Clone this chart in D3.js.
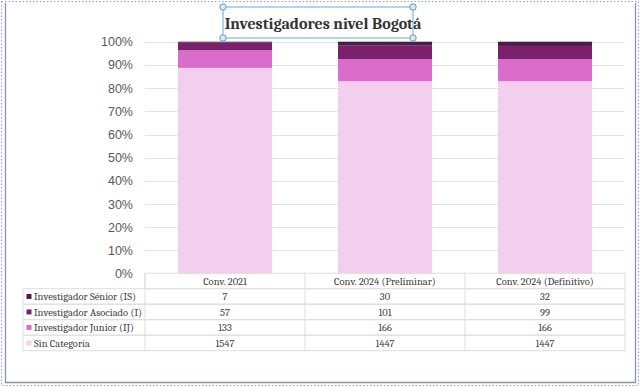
<!DOCTYPE html>
<html>
<head>
<meta charset="utf-8">
<script src="https://cdn.jsdelivr.net/npm/d3@7"></script>
<style>
  body { margin: 0; background: #fff; }
  svg { display: block; }
</style>
</head>
<body>
<div id="chart"></div>
<script>
// data
const categories = ["Conv. 2021", "Conv. 2024 (Preliminar)", "Conv. 2024 (Definitivo)"];
const seriesNames = ["Investigador Sénior (IS)", "Investigador Asociado (I)", "Investigador Junior (IJ)", "Sin Categoría"];
const senior = [7, 30, 32];
const asociado = [57, 101, 99];
const junior = [133, 166, 166];
const sinCategoria = [1547, 1447, 1447];
const yTicks = [0, 0.1, 0.2, 0.3, 0.4, 0.5, 0.6, 0.7, 0.8, 0.9, 1];

const colors = ["#521a4c", "#7b206c", "#d96dc9", "#f2cfec"];
const seriesValues = [senior, asociado, junior, sinCategoria];

const width = 640, height = 387;
const plot = { left: 145, right: 625, top: 41.7, bottom: 273.7 };
const rowH = 15.5;

const svg = d3.select("#chart").append("svg")
  .attr("width", width)
  .attr("height", height);

// frame
svg.append("rect")
  .attr("x", 1.5).attr("y", 1.5)
  .attr("width", width - 3).attr("height", height - 3)
  .attr("fill", "none")
  .attr("stroke", "#9aa3bb")
  .attr("stroke-dasharray", "1.5,2");
svg.append("path")
  .attr("d", "M5.5,3 V382.5 H635.5 V3")
  .attr("fill", "none")
  .attr("stroke", "#8793ad")
  .attr("stroke-width", 1.3);

// stack rows
const rows = categories.map((c, i) => {
  const r = { cat: c };
  seriesNames.forEach((s, j) => { r[s] = seriesValues[j][i]; });
  return r;
});
const stackKeys = seriesNames.slice().reverse(); // bottom first
const stacked = d3.stack().keys(stackKeys).offset(d3.stackOffsetExpand)(rows);

const x = d3.scaleBand()
  .domain(categories)
  .range([plot.left, plot.right])
  .paddingInner(0.4125)
  .paddingOuter(0.20625);
const xCol = d3.scaleBand()
  .domain(categories)
  .range([plot.left, plot.right]);
const y = d3.scaleLinear().domain([0, 1]).range([plot.bottom, plot.top]);

// gridlines
svg.append("g")
  .selectAll("line")
  .data(yTicks.slice(1))
  .join("line")
  .attr("x1", plot.left).attr("x2", plot.right - 1)
  .attr("y1", d => Math.round(y(d)) + 0.5)
  .attr("y2", d => Math.round(y(d)) + 0.5)
  .attr("stroke", "#e3e3e3")
  .attr("stroke-width", 1.2);

// y axis labels
const yAxis = svg.append("g")
  .attr("transform", "translate(133,0)")
  .call(d3.axisLeft(y).tickValues(yTicks).tickFormat(d3.format(".0%")).tickSize(0).tickPadding(0));
yAxis.select(".domain").remove();
yAxis.selectAll("text")
  .attr("font-family", "Liberation Sans, Arial, sans-serif")
  .attr("font-size", 12.5)
  .attr("fill", "#595959");

// bars
svg.append("g")
  .selectAll("g")
  .data(stacked)
  .join("g")
  .attr("fill", d => colors[seriesNames.indexOf(d.key)])
  .selectAll("rect")
  .data(d => d)
  .join("rect")
  .attr("x", d => x(d.data.cat))
  .attr("width", x.bandwidth())
  .attr("y", d => y(d[1]))
  .attr("height", d => y(d[0]) - y(d[1]));

// data table
const table = svg.append("g");
const gridColor = "#dedede";
const tTop = plot.bottom - 0.5;
const legendLeft = 23;
const serif = "Cambria, 'Liberation Serif', 'DejaVu Serif', serif";

// header row
table.append("rect")
  .attr("x", plot.left).attr("y", tTop)
  .attr("width", plot.right - plot.left).attr("height", rowH)
  .attr("fill", "none").attr("stroke", gridColor);
table.selectAll(".hdr")
  .data(categories)
  .join("text")
  .attr("class", "hdr")
  .attr("x", d => xCol(d) + xCol.bandwidth() / 2)
  .attr("y", tTop + rowH / 2 + 4)
  .attr("text-anchor", "middle")
  .attr("font-family", serif)
  .attr("font-size", 10.5)
  .attr("fill", "#404040")
  .text(d => d);
categories.forEach(c => {
  table.append("line")
    .attr("x1", xCol(c)).attr("x2", xCol(c))
    .attr("y1", tTop).attr("y2", tTop + rowH * 5)
    .attr("stroke", gridColor);
});

// series rows
seriesNames.forEach((s, j) => {
  const ry = tTop + rowH * (j + 1);
  table.append("rect")
    .attr("x", legendLeft).attr("y", ry)
    .attr("width", plot.right - legendLeft).attr("height", rowH)
    .attr("fill", "none").attr("stroke", gridColor);
  table.append("rect")
    .attr("x", 26.5).attr("y", ry + rowH / 2 - 2.5)
    .attr("width", 5).attr("height", 5)
    .attr("fill", colors[j]);
  table.append("text")
    .attr("x", 34)
    .attr("y", ry + rowH / 2 + 4)
    .attr("font-family", serif)
    .attr("font-size", 10.5)
    .attr("fill", "#404040")
    .text(s);
  table.selectAll(".v" + j)
    .data(seriesValues[j])
    .join("text")
    .attr("x", (d, i) => xCol(categories[i]) + xCol.bandwidth() / 2)
    .attr("y", ry + rowH / 2 + 4)
    .attr("text-anchor", "middle")
    .attr("font-family", serif)
    .attr("font-size", 10.5)
    .attr("fill", "#404040")
    .text(d => d);
});

// title with selection box
const title = svg.append("g");
title.append("text")
  .attr("x", 323)
  .attr("y", 29)
  .attr("text-anchor", "middle")
  .attr("font-family", serif)
  .attr("font-weight", "bold")
  .attr("font-size", 16)
  .attr("fill", "#333333")
  .text("Investigadores nivel Bogotá");
const box = { x0: 223, y0: 7, x1: 413, y1: 38 };
title.append("rect")
  .attr("x", box.x0).attr("y", box.y0)
  .attr("width", box.x1 - box.x0).attr("height", box.y1 - box.y0)
  .attr("fill", "none")
  .attr("stroke", "#6fa8dc")
  .attr("stroke-width", 1);
title.selectAll("circle")
  .data([[box.x0, box.y0], [box.x1, box.y0], [box.x0, box.y1], [box.x1, box.y1]])
  .join("circle")
  .attr("cx", d => d[0]).attr("cy", d => d[1])
  .attr("r", 3.2)
  .attr("fill", "#dbe8f7")
  .attr("stroke", "#5b9bd5");
</script>
</body>
</html>
